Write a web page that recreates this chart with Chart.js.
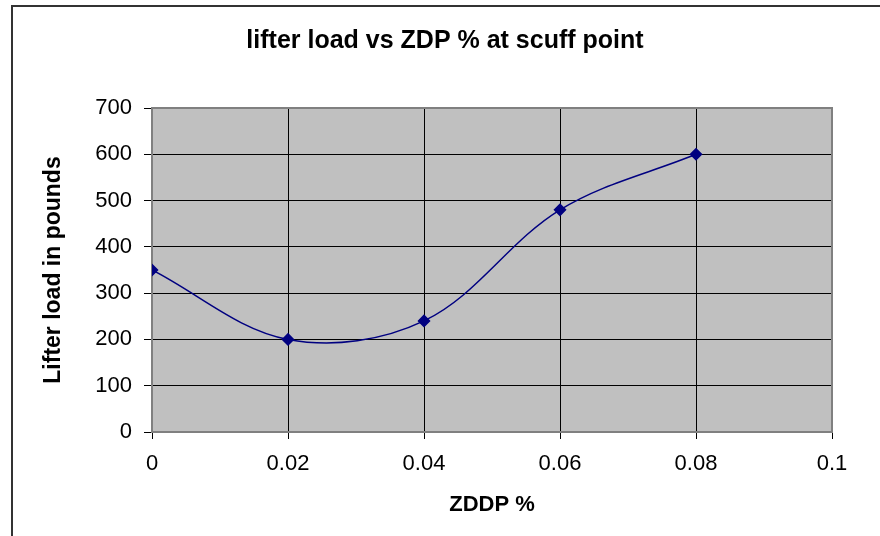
<!DOCTYPE html>
<html>
<head>
<meta charset="utf-8">
<script src="https://cdn.jsdelivr.net/npm/chart.js@4"></script>
<style>
  html, body { margin: 0; padding: 0; background: #fff; }
  #wrap { width: 880px; height: 536px; }
</style>
</head>
<body>
<div id="wrap"><canvas id="chart"></canvas></div>
<script>
const zddp = [0, 0.02, 0.04, 0.06, 0.08];
const lifterLoad = [350, 200, 240, 480, 600];
const xTicks = [0, 0.02, 0.04, 0.06, 0.08, 0.1];
const yTicks = [0, 100, 200, 300, 400, 500, 600, 700];

// gray plot area + outer frame (only top/left edges are inside the picture)
const frame = {
  id: "frame",
  afterLayout(chart) {
    // excel title sits a bit right of the canvas centre
    chart.titleBlock.left += 19;
    chart.titleBlock.right += 19;
  },
  beforeDraw(chart) {
    const { ctx, chartArea: a } = chart;
    ctx.save();
    ctx.fillStyle = "#fff";
    ctx.fillRect(0, 0, chart.width, chart.height);
    ctx.fillStyle = "#c0c0c0";
    ctx.fillRect(a.left, a.top, a.right - a.left, a.bottom - a.top);
    ctx.strokeStyle = "#333";
    ctx.lineWidth = 2;
    ctx.beginPath();
    ctx.moveTo(12, chart.height);
    ctx.lineTo(12, 6);
    ctx.lineTo(chart.width, 6);
    ctx.stroke();
    ctx.restore();
  },
  beforeDatasetsDraw(chart) {
    const { ctx, chartArea: a } = chart;
    ctx.save();
    ctx.strokeStyle = "#808080";
    ctx.lineWidth = 2;
    ctx.strokeRect(a.left, a.top, a.right - a.left, a.bottom - a.top);
    ctx.restore();
  }
};

new Chart(document.getElementById("chart"), {
  type: "line",
  data: {
    datasets: [{
      data: zddp.map((x, i) => ({ x: x, y: lifterLoad[i] })),
      borderColor: "#000080",
      backgroundColor: "#000080",
      borderWidth: 1.5,
      tension: 0.35,
      pointStyle: "rectRot",
      pointRadius: 5.5,
      pointHoverRadius: 5.5
    }]
  },
  options: {
    responsive: true,
    maintainAspectRatio: false,
    animation: false,
    layout: { padding: { left: 20, right: 48, top: 20, bottom: 10 } },
    plugins: {
      legend: { display: false },
      tooltip: { enabled: false },
      title: {
        display: true,
        text: "lifter load vs ZDP % at scuff point",
        color: "#000",
        font: { family: "Liberation Sans", size: 25, weight: "bold", lineHeight: 1.2 },
        padding: { top: 6, bottom: 52 }
      }
    },
    scales: {
      x: {
        type: "linear",
        min: 0,
        max: 0.1,
        afterBuildTicks: (s) => { s.ticks = xTicks.map(v => ({ value: v })); },
        afterFit: (s) => { s.height = 536 - 432 - 10; },
        ticks: {
          color: "#000",
          font: { family: "Liberation Sans", size: 22 },
          padding: 12,
          maxRotation: 0,
          callback: (v) => String(Number(v.toFixed(2)))
        },
        grid: { color: "#000", lineWidth: 1, tickLength: 7 },
        border: { display: false },
        title: {
          display: true,
          text: "ZDDP %",
          color: "#000",
          font: { family: "Liberation Sans", size: 22, weight: "bold", lineHeight: 1.2 },
          padding: { top: 4, bottom: 8 }
        }
      },
      y: {
        min: 0,
        max: 700,
        afterBuildTicks: (s) => { s.ticks = yTicks.map(v => ({ value: v })); },
        afterFit: (s) => { s.width = 152 - 20; },
        ticks: {
          color: "#000",
          font: { family: "Liberation Sans", size: 22 },
          padding: 12
        },
        grid: { color: "#000", lineWidth: 1, tickLength: 8 },
        border: { display: false },
        title: {
          display: true,
          text: "Lifter load in pounds",
          color: "#000",
          font: { family: "Liberation Sans", size: 23, weight: "bold", lineHeight: 1.2 },
          padding: { top: 20, bottom: 4 }
        }
      }
    }
  },
  plugins: [frame]
});
</script>
</body>
</html>
